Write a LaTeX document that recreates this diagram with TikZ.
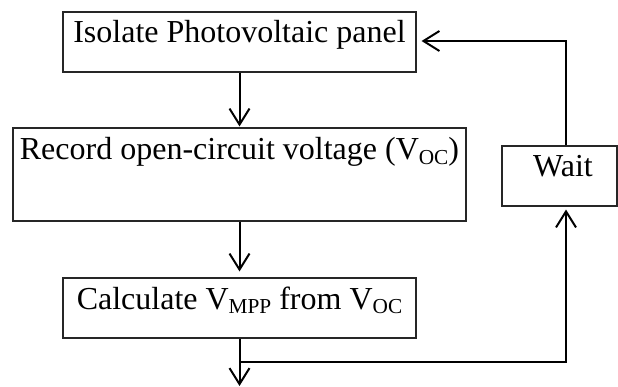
\documentclass[tikz,border=0pt]{standalone}
\usepackage{fontspec}
\setmainfont{Liberation Serif}
\usetikzlibrary{arrows.meta}
\newcommand\mysub[1]{\raisebox{-4.5pt}{\fontsize{21.3}{22}\selectfont #1}}
\tikzset{
  box/.style={draw=black!85, line width=1.1pt, rectangle, inner sep=0pt},
  lbl/.style={anchor=base, inner sep=0pt, font=\fontsize{32}{34}\selectfont},
  conn/.style={line width=2pt, -{Straight Barb[length=16pt,width=20pt,line width=2pt]}},
  plain/.style={line width=2pt}
}
\begin{document}
\begin{tikzpicture}[x=1pt,y=-1pt]
\useasboundingbox (0,0) rectangle (618,387);
\node[box, minimum width=353pt, minimum height=60pt] (b1) at (239.5,42) {};
\node[box, minimum width=453pt, minimum height=93pt] (b2) at (239.5,174.5) {};
\node[box, minimum width=353pt, minimum height=60pt] (b3) at (239.5,308) {};
\node[box, minimum width=115pt, minimum height=60pt] (w) at (559.5,176) {};
\node[lbl] (t1) at (239.5,43) {Isolate Photovoltaic panel};
\node[lbl] (t2) at (239.5,160) {Record open-circuit voltage (V\mysub{OC})};
\node[lbl] (t3) at (239.5,309) {Calculate V\mysub{MPP} from V\mysub{OC}};
\node[lbl] (tw) at (563,177) {Wait};
\coordinate (j) at (239.5,362);
\coordinate (e) at (239.5,386);
\coordinate (c) at (566,41);
\draw[conn, shorten >=1pt] (b1.south) -- (b2.north);
\draw[conn, shorten >=6pt] (b2.south) -- (b3.north);
\draw[conn] (b3.south) -- (e);
\draw[conn, shorten >=3pt] (j) -| (w.south -| c);
\draw[conn, shorten >=5pt] (w.north -| c) |- (b1.east |- c);
\end{tikzpicture}
\end{document}
